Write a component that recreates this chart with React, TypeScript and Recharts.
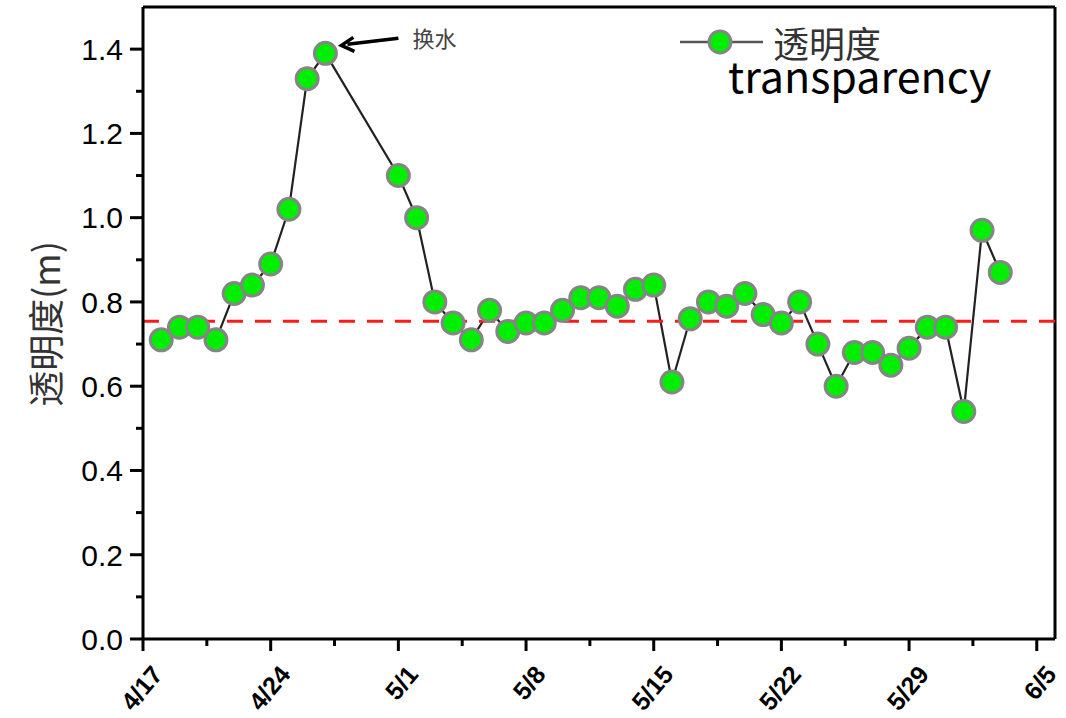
import React from 'react';
import { LineChart, Line, XAxis, YAxis, ReferenceLine, ReferenceDot, Legend } from 'recharts';

// sampling dates (day/month as on the axis)
const dates = [
  '4/18', '4/19', '4/20', '4/21', '4/22', '4/23', '4/24', '4/25', '4/26', '4/27',
  '5/1', '5/2', '5/3', '5/4', '5/5', '5/6', '5/7', '5/8', '5/9', '5/10',
  '5/11', '5/12', '5/13', '5/14', '5/15', '5/16', '5/17', '5/18', '5/19', '5/20',
  '5/21', '5/22', '5/23', '5/24', '5/25', '5/26', '5/27', '5/28', '5/29', '5/30',
  '5/31', '6/1', '6/2', '6/3',
];

// transparency (m)
const transparency = [
  0.71, 0.74, 0.74, 0.71, 0.82, 0.84, 0.89, 1.02, 1.33, 1.39,
  1.10, 1.00, 0.80, 0.75, 0.71, 0.78, 0.73, 0.75, 0.75, 0.78,
  0.81, 0.81, 0.79, 0.83, 0.84, 0.61, 0.76, 0.80, 0.79, 0.82,
  0.77, 0.75, 0.80, 0.70, 0.60, 0.68, 0.68, 0.65, 0.69, 0.74,
  0.74, 0.54, 0.97, 0.87,
];

const xTickLabels = ['4/17', '4/24', '5/1', '5/8', '5/15', '5/22', '5/29', '6/5'];
const yTicks = [0, 0.1, 0.2, 0.3, 0.4, 0.5, 0.6, 0.7, 0.8, 0.9, 1.0, 1.1, 1.2, 1.3, 1.4];
const meanLevel = 0.754;
const annotationText = '换水';

const START = Date.UTC(2017, 3, 17);
const dayOf = (s: string) => {
  const [m, d] = s.split('/').map(Number);
  return Math.round((Date.UTC(2017, m - 1, d) - START) / 86400000);
};

const data = dates.map((d, i) => ({ day: dayOf(d), value: transparency[i] }));

// major ticks every week, minor ticks half way
const xTicks: number[] = [];
xTickLabels.forEach((_, i) => {
  xTicks.push(i * 7);
  if (i < xTickLabels.length - 1) xTicks.push(i * 7 + 3.5);
});
const xMax = 50;

const peakIdx = transparency.indexOf(Math.max(...transparency));

const GREEN = '#00ee00';
const RIM = '#858585';

const XTick = (props: any) => {
  const { x, y, payload } = props;
  const v = payload.value;
  const major = v % 7 === 0;
  const lx = x + 21;
  const ly = y + 36;
  return (
    <g>
      <line x1={x} y1={y} x2={x} y2={y + (major ? 12 : 7)} stroke="#000" strokeWidth={3} />
      {major && (
        <text
          x={lx}
          y={ly}
          transform={`rotate(-50, ${lx}, ${ly})`}
          textAnchor="end"
          fontFamily="Arial, 'Liberation Sans', sans-serif"
          fontWeight="bold"
          fontSize={25}
          fill="#000"
        >
          {xTickLabels[v / 7]}
        </text>
      )}
    </g>
  );
};

const YTick = (props: any) => {
  const { x, y, payload } = props;
  const v = payload.value;
  const major = Math.round(v * 10) % 2 === 0;
  return (
    <g>
      <line x1={x - (major ? 13 : 7)} y1={y} x2={x} y2={y} stroke="#000" strokeWidth={3} />
      {major && (
        <text
          x={x - 20}
          y={y}
          dy="0.36em"
          textAnchor="end"
          fontFamily="Arial, 'Liberation Sans', sans-serif"
          fontSize={30}
          fill="#000"
        >
          {v.toFixed(1)}
        </text>
      )}
    </g>
  );
};

const yTitle = () => (
  <text
    x={44}
    y={324}
    transform="rotate(-90, 44, 324)"
    textAnchor="middle"
    dominantBaseline="central"
    fontFamily="'Noto Sans CJK SC', sans-serif"
    fontSize={36}
    fill="#333"
  >
    透明度(m)
  </text>
);

const Annotation = (props: any) => {
  const { cx, cy } = props;
  const tipX = cx + 16;
  const tipY = cy - 8;
  const tailX = cx + 73;
  const tailY = cy - 15;
  return (
    <g>
      <line x1={tailX} y1={tailY} x2={tipX + 6} y2={tipY - 1} stroke="#000" strokeWidth={3.5} />
      <polyline
        points={`${tipX + 12},${tipY - 8} ${tipX},${tipY} ${tipX + 13},${tipY + 6}`}
        fill="none"
        stroke="#000"
        strokeWidth={3.5}
        strokeLinejoin="miter"
      />
      <text
        x={cx + 87}
        y={cy - 16}
        dominantBaseline="central"
        fontFamily="'Noto Sans CJK SC', sans-serif"
        fontSize={22}
        fill="#444"
      >
        {annotationText}
      </text>
    </g>
  );
};

const renderLegend = () => (
  <svg width={380} height={115}>
    <line x1={10} y1={42} x2={93} y2={42} stroke="#555" strokeWidth={2.5} />
    <circle cx={50} cy={42} r={11} fill={GREEN} stroke={RIM} strokeWidth={3} />
    <text
      x={103}
      y={42}
      dominantBaseline="central"
      fontFamily="'Noto Sans CJK SC', sans-serif"
      fontSize={36}
      fill="#333"
    >
      透明度
    </text>
    <text x={58} y={93} fontFamily="'Noto Sans CJK SC', sans-serif" fontSize={43} fill="#000">
      transparency
    </text>
  </svg>
);

export default function App() {
  return (
    <div style={{ position: 'absolute', left: 0, top: 0, background: '#fff' }}>
      <LineChart
        width={1066}
        height={718}
        data={data}
        margin={{ top: 7, right: 11, bottom: 0, left: 0 }}
      >
        <XAxis
          dataKey="day"
          type="number"
          domain={[0, xMax]}
          ticks={xTicks}
          interval={0}
          height={79}
          tickSize={0}
          tickMargin={0}
          tickLine={false}
          tick={<XTick />}
          axisLine={{ stroke: '#000', strokeWidth: 3 }}
        />
        <YAxis
          type="number"
          domain={[0, 1.5]}
          ticks={yTicks}
          interval={0}
          width={143}
          tickSize={0}
          tickMargin={0}
          tickLine={false}
          tick={<YTick />}
          axisLine={{ stroke: '#000', strokeWidth: 3 }}
          label={yTitle}
        />
        <ReferenceLine y={1.5} stroke="#000" strokeWidth={3} />
        <ReferenceLine x={xMax} stroke="#000" strokeWidth={3} />
        <Line
          type="linear"
          dataKey="value"
          stroke="#222"
          strokeWidth={2.2}
          dot={{ r: 11, fill: GREEN, stroke: RIM, strokeWidth: 3 }}
          activeDot={false}
          isAnimationActive={false}
        />
        <ReferenceLine y={meanLevel} stroke="#ff1a1a" strokeWidth={3} strokeDasharray="16 12" />
        <ReferenceDot
          x={data[peakIdx].day}
          y={data[peakIdx].value}
          shape={(p: any) => <Annotation {...p} />}
        />
        <Legend
          layout="horizontal"
          verticalAlign="middle"
          align="center"
          content={renderLegend}
          wrapperStyle={{ position: 'absolute', left: 670, top: 0, width: 380, height: 115 }}
        />
      </LineChart>
    </div>
  );
}
